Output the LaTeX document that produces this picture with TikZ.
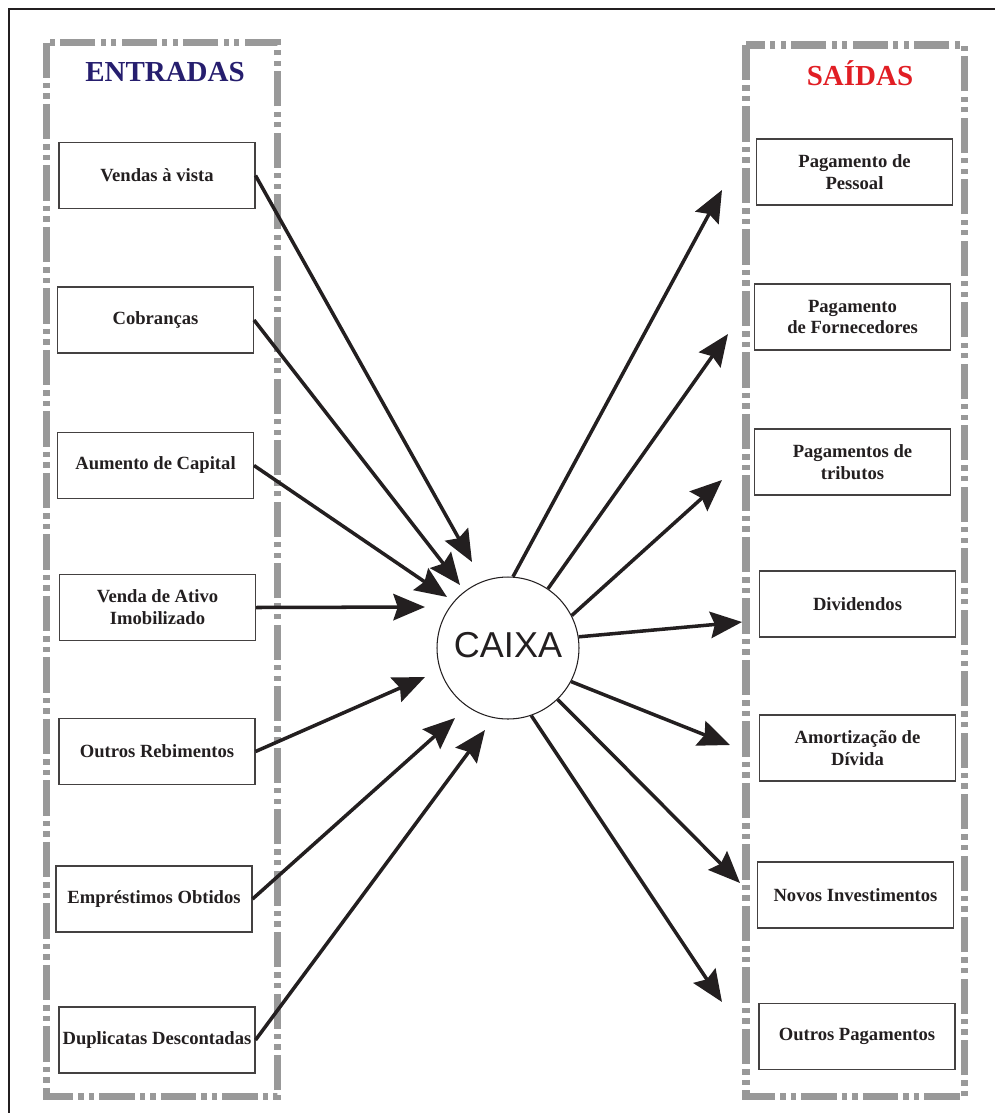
\documentclass[tikz,border=0pt]{standalone}
\usepackage{fontspec}
\setmainfont{Liberation Serif}
\newfontfamily\caixafont{Liberation Sans}
\usetikzlibrary{arrows.meta}
\definecolor{framegray}{RGB}{153,153,153}
\definecolor{ink}{RGB}{35,31,32}
\definecolor{navy}{RGB}{38,30,110}
\definecolor{saidared}{RGB}{225,30,36}

\begin{document}
\begin{tikzpicture}[x=0.02cm, y=-0.02cm, text=ink,
	font=\bfseries\fontsize{10.6}{12.5}\selectfont,
	itembox/.style={draw=ink!85, line width=0.6pt, minimum width=3.92cm, minimum height=1.32cm, inner sep=0pt, align=center},
	flow/.style={draw=ink, line width=2pt, -{Stealth[length=18pt, width=15pt, inset=2.5pt]}},
	groupframe/.style={draw=framegray, line width=4pt, dash pattern=on 20pt off 3pt on 3pt off 3pt on 3pt off 3pt}]
	\useasboundingbox (0,0) rectangle (995,1113);
	\draw[ink, line width=0.6pt] (9,1113) -- (9,9) -- (995,9);
	
	% entradas / saidas
	\draw[groupframe] (46.5,42.5) rectangle (277.5,1096.5);
	\draw[groupframe] (746,45) rectangle (964.5,1096.5);
	\node[text=navy, font=\bfseries\fontsize{16.5}{18}\selectfont] (entradas) at (165,72) {ENTRADAS};
	\node[text=saidared, font=\bfseries\fontsize{16.5}{18}\selectfont] (saidas) at (860,73) {SAÍDAS};
	
	\node[circle, draw=ink, line width=0.6pt, minimum size=2.84cm, inner sep=0pt,
		font=\caixafont\fontsize{20.5}{22}\selectfont] (caixa) at (508,648) {\raisebox{4pt}{CAIXA}};
	
	\foreach \n/\x/\y/\txt in {1/157/175.5/{Vendas à vista}, 2/155.5/320/Cobranças,
		3/155.5/465.5/{Aumento de Capital}, 4/157.5/607.5/{Venda de Ativo\\Imobilizado},
		5/157/751.5/{Outros Rebimentos}, 6/154/899/{Empréstimos Obtidos},
		7/157/1040/{Duplicatas Descontadas}}	{
		\node[itembox] (in\n) at (\x,\y) {\txt};
	}
	\foreach \n/\x/\y in {1/472/562, 2/460/585, 3/447/597, 4/425/607, 5/425/677, 6/455/718, 7/485/730}	{
		\coordinate (tin\n) at (\x,\y);
		\draw[flow] (in\n.east) -- (tin\n);
	}
	
	\foreach \n/\x/\y/\txt in {1/854.5/172/{Pagamento de\\Pessoal}, 2/852.5/317/{Pagamento\\de Fornecedores},
		3/852.5/462/{Pagamentos de\\tributos}, 4/857.5/604/Dividendos,
		5/857.5/748/{Amortização de\\Dívida}, 6/855.5/895/{Novos Investimentos},
		7/857/1036.5/{Outros Pagamentos}}	{
		\node[itembox] (out\n) at (\x,\y) {\txt};
	}
	\foreach \n/\a/\x/\y in {1/86/722/190, 2/56/728/334, 3/27/722/480, 4/9/742/622,
		5/-28/730/745, 6/-46/740/883, 7/-71/722/1002}	{
		\coordinate (tout\n) at (\x,\y);
		\draw[flow] (caixa.\a) -- (tout\n);
	}
\end{tikzpicture}
\end{document}
